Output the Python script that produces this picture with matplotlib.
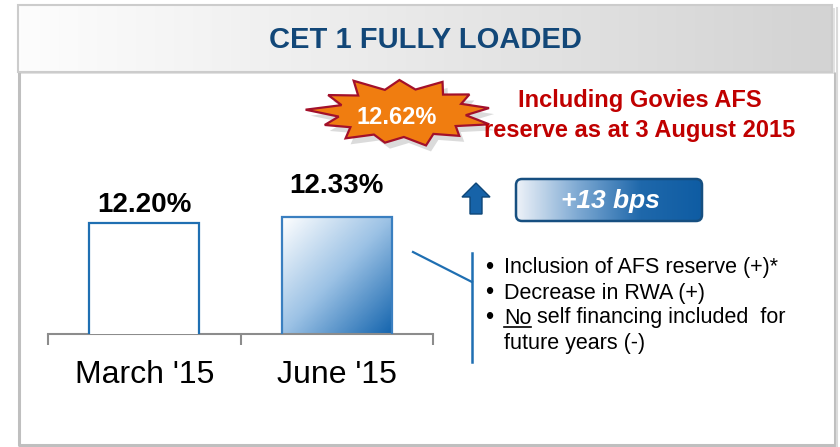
import numpy as np
import matplotlib
matplotlib.use("Agg")
import matplotlib.pyplot as plt
import matplotlib.patches as patches
from matplotlib.colors import LinearSegmentedColormap

plt.rcParams['font.family'] = ['Liberation Sans', 'DejaVu Sans']

# data
categories = ["March '15", "June '15"]
values = [12.20, 12.33]
value_labels = ["12.20%", "12.33%"]
title = "CET 1 FULLY LOADED"
burst_label = "12.62%"
burst_note = ["Including Govies AFS", "reserve as at 3 August 2015"]
delta_label = "+13 bps"
bullets = ["Inclusion of AFS reserve (+)*", "Decrease in RWA (+)"]

W, H = 840, 447
fig = plt.figure(figsize=(W / 100, H / 100), dpi=100)
fig.patch.set_facecolor('white')

# overlay axes in pixel coordinates for the slide decoration
ov = fig.add_axes([0, 0, 1, 1])
ov.set_xlim(0, W)
ov.set_ylim(H, 0)
ov.axis('off')

gray = '#BFBFBF'
# body frame
ov.plot([19, 19, 835, 835], [72, 445, 445, 72], color=gray, lw=2.2, solid_capstyle='butt')
ov.plot([837, 837], [8, 446], color='#DADADA', lw=1.5)

# header with horizontal gradient
grad = np.linspace(0, 1, 256).reshape(1, -1)
hcmap = LinearSegmentedColormap.from_list('hdr', ['#FDFDFD', '#D3D3D3'])
ov.add_patch(patches.Rectangle((21, 8), 814, 66, facecolor='#D0D0D0', edgecolor='none', alpha=0.6))
ov.imshow(grad, cmap=hcmap, extent=[18, 832, 72, 5], aspect='auto', zorder=1)
ov.add_patch(patches.Rectangle((18, 5), 814, 67, facecolor='none', edgecolor='#CCCCCC', lw=1.5, zorder=2))
ov.text(425, 40, title, ha='center', va='center', fontsize=21, fontweight='bold',
        color='#124778', zorder=3)

# starburst
cx, cy = 402, 113
n = 13
outer = [1.0, 0.95, 1.05, 1.0, 1.12, 1.0, 1.1, 0.95, 1.0, 0.92, 1.02, 0.95, 1.05]
ang_out = np.linspace(0, 2 * np.pi, n, endpoint=False) + 0.15
pts = []
for i, a in enumerate(ang_out):
    pts.append((cx + 88 * outer[i] * np.cos(a), cy - 33 * outer[i] * np.sin(a)))
    b = a + np.pi / n
    pts.append((cx + 64 * np.cos(b), cy - 24 * np.sin(b)))
pts = np.array(pts)
ov.add_patch(patches.Polygon(pts + [5, 6], closed=True, facecolor='#9A9A9A', edgecolor='none',
                             alpha=0.35, zorder=3))
ov.add_patch(patches.Polygon(pts, closed=True, facecolor='#F07D10', edgecolor='#A3102A',
                             lw=1.6, zorder=4))
ov.text(397, 117, burst_label, ha='center', va='center', fontsize=17, fontweight='bold',
        color='white', zorder=5)
ov.text(640, 101, burst_note[0], ha='center', va='center', fontsize=17, fontweight='bold',
        color='#C00000', zorder=5)
ov.text(640, 130, burst_note[1], ha='center', va='center', fontsize=17, fontweight='bold',
        color='#C00000', zorder=5)

# up arrow
ov.add_patch(patches.FancyArrow(476, 214, 0, -31, width=12, head_width=28, head_length=14,
                                length_includes_head=True, facecolor='#1763A8',
                                edgecolor='#0E4677', lw=1, zorder=4))

# +13 bps box with gradient
box = patches.FancyBboxPatch((516, 179), 186, 42, boxstyle='round,pad=0,rounding_size=6',
                             facecolor='none', edgecolor='#164F80', lw=1.8, zorder=6)
ov.add_patch(box)
bcmap = LinearSegmentedColormap.from_list('bx', ['#F2F5FA', '#7FAAD3', '#1F68AB', '#0E5CA3'])
im = ov.imshow(grad, cmap=bcmap, extent=[514, 704, 223, 177], aspect='auto', zorder=5)
im.set_clip_path(box)
ov.text(610, 201, delta_label, ha='center', va='center', fontsize=19, fontweight='bold',
        fontstyle='italic', color='white', zorder=7)

# connector lines
ov.plot([413, 472], [252, 282], color='#1F6FB2', lw=1.6, zorder=4)
ov.plot([472, 472], [253, 362], color='#1F6FB2', lw=1.8, zorder=4)

# bullet list
fs = 15.5
ys = [268, 293, 318]
for y, txt in zip(ys[:2], bullets):
    ov.text(489, y, '\u2022', ha='center', va='center', fontsize=17, color='black')
    ov.text(504, y, txt, ha='left', va='center', fontsize=fs, color='black')
ov.text(489, ys[2], '\u2022', ha='center', va='center', fontsize=17, color='black')
t_no = ov.text(504, ys[2], 'No', ha='left', va='center', fontsize=fs, color='black')
fig.canvas.draw()
bb = t_no.get_window_extent().transformed(ov.transData.inverted())
ov.text(bb.x1, ys[2], ' self financing included  for', ha='left', va='center',
        fontsize=fs, color='black')
ov.plot([bb.x0, bb.x1], [327, 327], color='black', lw=1.2)
ov.text(504, 343, 'future years (-)', ha='left', va='center', fontsize=fs, color='black')

# bar chart axes: baseline at y=334 px, from x=48 to 433 px
ax = fig.add_axes([48 / W, (H - 334) / H, (433 - 48) / W, 184 / H])
ax.patch.set_alpha(0)
ymin = 9.8
ax.set_ylim(ymin, ymin + 184 / 46.25)
ax.set_xlim(-0.5, 1.5)
x = np.arange(len(categories))
bars = ax.bar(x, values, width=0.57, bottom=0, color=['white', 'none'],
              edgecolor=['#1F6FB2', '#3A7FC0'], linewidth=1.6, zorder=3)

# diagonal gradient inside June bar
gy, gx = np.mgrid[0:1:100j, 0:1:100j]
diag = (gx + gy) / 2
jcmap = LinearSegmentedColormap.from_list('bar', ['#FFFFFF', '#9CC2E5', '#1565AE'])
b2 = bars[1]
gim = ax.imshow(diag, cmap=jcmap, extent=[b2.get_x(), b2.get_x() + b2.get_width(), ymin, values[1]],
                origin='upper', aspect='auto', zorder=2)
gim.set_clip_path(b2)

offsets = [5, 18]
for xi, v, lab, off in zip(x, values, value_labels, offsets):
    ax.annotate(lab, (xi, v), xytext=(0, off), textcoords='offset pixels', ha='center',
                va='bottom', fontsize=20, fontweight='bold', color='black')

for s in ['top', 'right', 'left']:
    ax.spines[s].set_visible(False)
ax.spines['bottom'].set_color('#8C8C8C')
ax.spines['bottom'].set_linewidth(1.5)
ax.set_yticks([])
ax.set_xticks(x)
ax.set_xticklabels(categories, fontsize=23)
ax.tick_params(axis='x', which='major', length=0, pad=19)
ax.set_xticks([-0.5, 0.5, 1.5], minor=True)
ax.tick_params(axis='x', which='minor', length=8, width=1.5, color='#8C8C8C')

fig.savefig('out.png', dpi=100)
